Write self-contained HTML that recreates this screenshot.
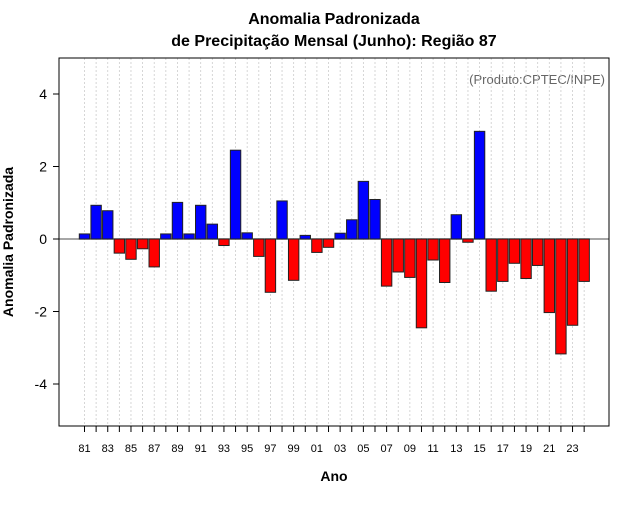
<!DOCTYPE html>
<html><head><meta charset="utf-8"><style>
body{margin:0;background:#fff}
svg text{font-family:"Liberation Sans",sans-serif}
</style></head><body>
<svg id="c" width="640" height="500" xmlns="http://www.w3.org/2000/svg">
<text x="334" y="24" text-anchor="middle" font-size="16" font-weight="bold">Anomalia Padronizada</text>
<text x="334" y="46" text-anchor="middle" font-size="16" font-weight="bold">de Precipitação Mensal (Junho): Região 87</text>
<text x="605" y="84" text-anchor="end" font-size="13" fill="#666">(Produto:CPTEC/INPE)</text>
<text x="334" y="481" text-anchor="middle" font-size="14" font-weight="bold">Ano</text>
<text transform="translate(13,242) rotate(-90)" text-anchor="middle" font-size="14" font-weight="bold">Anomalia Padronizada</text>
<g id="grid"></g><g id="bars"></g><g id="axes"></g>
<rect x="59" y="58" width="550" height="368" fill="none" stroke="#000"/>
</svg>
<script>
const years=[1981,1982,1983,1984,1985,1986,1987,1988,1989,1990,1991,1992,1993,1994,1995,1996,1997,1998,1999,2000,2001,2002,2003,2004,2005,2006,2007,2008,2009,2010,2011,2012,2013,2014,2015,2016,2017,2018,2019,2020,2021,2022,2023,2024];
const values=[0.14,0.93,0.78,-0.39,-0.56,-0.27,-0.77,0.14,1.01,0.14,0.93,0.41,-0.18,2.45,0.17,-0.48,-1.47,1.05,-1.14,0.10,-0.37,-0.23,0.16,0.53,1.59,1.09,-1.30,-0.91,-1.06,-2.45,-0.58,-1.20,0.67,-0.09,2.97,-1.44,-1.17,-0.67,-1.09,-0.73,-2.03,-3.17,-2.38,-1.17];
const yTicks=[-4,-2,0,2,4];
const NS="http://www.w3.org/2000/svg";
const x=y=>84.5+(y-1981)*11.62;
const yS=v=>239-v*36.25;
function mk(t,a,p){const e=document.createElementNS(NS,t);for(const k in a)e.setAttribute(k,a[k]);p.appendChild(e);return e;}
const grid=document.getElementById('grid'),bars=document.getElementById('bars'),axes=document.getElementById('axes');
years.forEach(yr=>{
 const l=mk('line',{x1:x(yr),x2:x(yr),y1:58,y2:426,stroke:'#ccc','stroke-dasharray':'2,2','stroke-width':0.8},grid);
 
 
});
const z=mk('line',{x1:59,x2:609,y1:yS(0),y2:yS(0),stroke:'#888','stroke-width':1.5},grid);


values.forEach((v,i)=>{
 const y0=yS(0),y1=yS(v);
 const r=mk('rect',{x:x(years[i])-5.2,y:Math.min(y0,y1),width:10.4,height:Math.abs(y1-y0),fill:v>=0?'#0000ff':'#ff0000',stroke:'#222','stroke-width':1},bars);
 
 
});
yTicks.forEach(t=>{
 mk('line',{x1:53,x2:59,y1:yS(t),y2:yS(t),stroke:'#000'},axes);
 const tx=mk('text',{x:47,y:yS(t)+5,'text-anchor':'end','font-size':14},axes);tx.textContent=t;
 
 
});
years.forEach((yr,i)=>{
 mk('line',{x1:x(yr),x2:x(yr),y1:426,y2:432,stroke:'#000'},axes);
 if(i%2===0){const tx=mk('text',{x:x(yr),y:452,'text-anchor':'middle','font-size':11},axes);tx.textContent=String(yr).slice(2);
 
 }
});
</script>
</body></html>
